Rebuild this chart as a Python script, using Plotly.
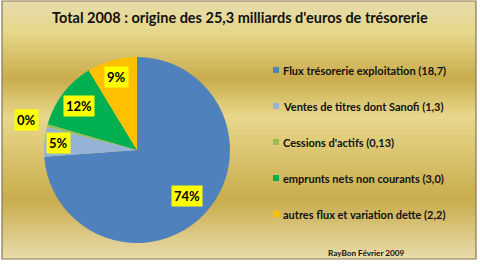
import math
import plotly.graph_objects as go

# ---- data ----
labels = [
    "Flux trésorerie exploitation (18,7)",
    "Ventes de titres dont Sanofi (1,3)",
    "Cessions d'actifs (0,13)",
    "emprunts nets non courants (3,0)",
    "autres flux et variation dette (2,2)",
]
values = [18.7, 1.3, 0.12, 3.0, 2.2]   # tiny slice shown as 0% in the picture
title_text = "Total 2008 : origine des 25,3 milliards d'euros de trésorerie"
footer_text = "RayBon Février 2009"

# ---- style ----
colors = ["#4F81BD", "#95B3D7", "#9BBB59", "#00B050", "#FFC000"]
label_radius = [0.73, 0.85, 1.23, 0.78, 0.82]   # label distance as fraction of radius
W, H = 480, 264
FONT = "Lato"

def px(x):
    return x / W

def py(y):
    return 1 - y / H

# pie geometry in pixels
cx, cy, R = 137, 150, 93

fig = go.Figure()
fig.add_trace(go.Pie(
    labels=labels, values=values, sort=False, direction="clockwise", rotation=0,
    marker=dict(colors=colors, line=dict(width=0)),
    textinfo="none", hoverinfo="label+percent", showlegend=False,
    domain=dict(x=[px(cx - R), px(cx + R)], y=[py(cy + R), py(cy - R)]),
))

shapes = []
# gold gradient background inside frame
stops = [(0.0, (0xE6, 0xDC, 0xAC)), (0.12, (0xE6, 0xD7, 0x8A)), (0.30, (0xC9, 0xAC, 0x4C)),
         (0.45, (0xE8, 0xD8, 0x8C)), (0.77, (0xC9, 0xAC, 0x4C)), (1.0, (0xE8, 0xDC, 0xAC))]

def grad(t):
    for (a, ca), (b, cb) in zip(stops[:-1], stops[1:]):
        if a <= t <= b:
            f = (t - a) / (b - a)
            return "rgb(%d,%d,%d)" % tuple(round(ca[i] + (cb[i] - ca[i]) * f) for i in range(3))
    return "rgb(%d,%d,%d)" % stops[-1][1]

fx0, fy0, fx1, fy1 = 2, 1, 476, 259
n = 129
for i in range(n):
    y0 = fy0 + (fy1 - fy0) * i / n
    y1 = fy0 + (fy1 - fy0) * (i + 1) / n + 0.6
    shapes.append(dict(type="rect", xref="paper", yref="paper", layer="below",
                       x0=px(fx0), x1=px(fx1), y0=py(y0), y1=py(min(y1, fy1)),
                       fillcolor=grad((i + 0.5) / n), line=dict(width=0)))
shapes.append(dict(type="rect", xref="paper", yref="paper", layer="above",
                   x0=px(fx0), x1=px(fx1), y0=py(fy0), y1=py(fy1),
                   line=dict(color="#8C7650", width=1.2)))

annotations = []
# title
annotations.append(dict(text="<b>" + title_text + "</b>", x=px(240), y=py(17), xref="paper", yref="paper",
                        showarrow=False, xanchor="center", yanchor="middle",
                        font=dict(family=FONT, size=14.5, color="#111111")))
# footer
annotations.append(dict(text="<b>" + footer_text + "</b>", x=px(326), y=py(253), xref="paper", yref="paper",
                        showarrow=False, xanchor="left", yanchor="middle",
                        font=dict(family=FONT, size=8.2, color="#111111")))

# percentage labels
total = sum(values)
cum = 0.0
for v, k in zip(values, label_radius):
    mid = (cum + v / 2) / total * 2 * math.pi
    cum += v
    lx = cx + k * R * math.sin(mid)
    ly = cy - k * R * math.cos(mid)
    annotations.append(dict(text="<b>%d%%</b>" % round(v / total * 100), x=px(lx), y=py(ly),
                            xref="paper", yref="paper", showarrow=False,
                            xanchor="center", yanchor="middle", bgcolor="#FFFF00", borderpad=2,
                            font=dict(family=FONT, size=13, color="#000000")))

# legend (built from labels/colors)
for i, (lab, col) in enumerate(zip(labels, colors)):
    yy = 70 + 36 * i
    shapes.append(dict(type="rect", xref="paper", yref="paper", layer="above",
                       x0=px(273), x1=px(279), y0=py(yy + 3), y1=py(yy - 3),
                       fillcolor=col, line=dict(width=0)))
    annotations.append(dict(text="<b>" + lab + "</b>", x=px(281), y=py(yy), xref="paper", yref="paper",
                            showarrow=False, xanchor="left", yanchor="middle",
                            font=dict(family=FONT, size=11, color="#111111")))

fig.update_layout(
    width=W, height=H, margin=dict(l=0, r=0, t=0, b=0),
    paper_bgcolor="white", plot_bgcolor="white",
    shapes=shapes, annotations=annotations, showlegend=False,
)
fig.write_html("out.html")
